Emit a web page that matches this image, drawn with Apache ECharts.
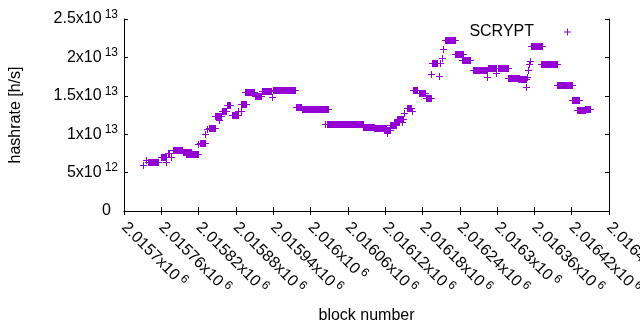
<!DOCTYPE html>
<html>
<head>
<meta charset="utf-8">
<script src="https://cdn.jsdelivr.net/npm/echarts@6/dist/echarts.min.js"></script>
<style>
html, body { margin: 0; padding: 0; background: #fff; }
#main { width: 640px; height: 330px; }
</style>
</head>
<body>
<div id="main"></div>
<script>
// runs of blocks sharing one hashrate value: first block, last block, hashrate [h/s]
var runStart = [2015731, 2015736, 2015739, 2015760, 2015768, 2015771, 2015775, 2015778, 2015795, 2015799,
    2015819, 2015823, 2015831, 2015834, 2015836, 2015847, 2015852, 2015858, 2015866, 2015874,
    2015884, 2015888, 2015888, 2015895, 2015896, 2015911, 2015922, 2015938, 2015940, 2015977,
    2015986, 2016023, 2016026, 2016084, 2016102, 2016111, 2016118, 2016123, 2016127, 2016134,
    2016139, 2016147, 2016150, 2016155, 2016163, 2016164, 2016174, 2016185, 2016194, 2016196,
    2016207, 2016209, 2016211, 2016213, 2016216, 2016232, 2016243, 2016261, 2016284, 2016285,
    2016299, 2016301, 2016317, 2016333, 2016346, 2016348, 2016350, 2016351, 2016353, 2016355,
    2016371, 2016397, 2016421, 2016429, 2016442];
var runEnd = [2015731, 2015736, 2015755, 2015767, 2015768, 2015773, 2015775, 2015794, 2015807, 2015819,
    2015819, 2015831, 2015831, 2015834, 2015847, 2015856, 2015852, 2015864, 2015871, 2015884,
    2015884, 2015896, 2015888, 2015895, 2015909, 2015920, 2015937, 2015938, 2015975, 2015985,
    2016028, 2016023, 2016084, 2016102, 2016111, 2016121, 2016127, 2016123, 2016137, 2016142,
    2016148, 2016147, 2016150, 2016161, 2016163, 2016172, 2016184, 2016193, 2016194, 2016204,
    2016207, 2016209, 2016211, 2016213, 2016233, 2016245, 2016256, 2016283, 2016284, 2016299,
    2016299, 2016317, 2016336, 2016346, 2016346, 2016348, 2016350, 2016351, 2016353, 2016373,
    2016397, 2016421, 2016431, 2016442, 2016450];
var runHash = [6.05e12, 6.64e12, 6.34e12, 6.97e12, 6.38e12, 7.49e12, 6.97e12, 7.94e12, 7.62e12, 7.36e12,
    8.66e12, 8.79e12, 1.009e13, 1.074e13, 1.077e13, 1.237e13, 1.185e13, 1.302e13, 1.38e13, 1.25e13,
    1.302e13, 1.389e13, 1.302e13, 1.553e13, 1.545e13, 1.491e13, 1.558e13, 1.488e13, 1.572e13, 1.354e13,
    1.324e13, 1.129e13, 1.13e13, 1.09e13, 1.077e13, 1.087e13, 1.055e13, 1.022e13, 1.117e13, 1.165e13,
    1.204e13, 1.163e13, 1.272e13, 1.341e13, 1.302e13, 1.572e13, 1.532e13, 1.471e13, 1.78e13, 1.923e13,
    1.762e13, 1.923e13, 1.988e13, 2.109e13, 2.222e13, 2.04e13, 1.966e13, 1.836e13, 1.749e13, 1.866e13,
    1.793e13, 1.866e13, 1.736e13, 1.719e13, 1.618e13, 1.749e13, 1.836e13, 1.91e13, 1.953e13, 2.142e13,
    1.914e13, 1.637e13, 1.445e13, 1.315e13, 1.328e13];

var seriesName = 'SCRYPT';
var xRange = [2015700, 2016480];
var xStep = 60;
var yRange = [0, 2.5e13];
var yStep = 5e12;

var purple = '#9400d3';
var font = '"Liberation Sans", Arial, sans-serif';

// "2.0157x10^6" style labels, like gnuplot's enhanced text
function sciLabel(v) {
    if (v === 0) return '{z|0}';
    var e = Math.floor(Math.log10(v) + 1e-9);
    var m = +(v / Math.pow(10, e)).toPrecision(6);
    return '{m|' + m + 'x10}{e|' + e + '}';
}

// a run of '+' points merges into a bar; draw it as one shape
function renderRun(params, api) {
    var p1 = api.coord([api.value(0), api.value(2)]);
    var p2 = api.coord([api.value(1), api.value(2)]);
    var x1 = Math.round(p1[0]), x2 = Math.round(p2[0]), y = Math.round(p1[1]);
    var color = api.visual('color');
    return {
        type: 'group',
        children: [
            { type: 'rect', shape: { x: x1, y: y - 3, width: x2 - x1 + 1, height: 7 }, style: { fill: color } },
            { type: 'rect', shape: { x: x1 - 3, y: y, width: x2 - x1 + 7, height: 1 }, style: { fill: color } }
        ]
    };
}

var runs = runStart.map(function (s, i) { return [s, runEnd[i], runHash[i]]; });

var lineStyle = { color: '#000', width: 1 };
var tick = { show: true, inside: true, length: 4, lineStyle: lineStyle };

var chart = echarts.init(document.getElementById('main'));
chart.setOption({
    animation: false,
    textStyle: { fontFamily: font },
    grid: { left: 124, right: 31, top: 19, bottom: 119, outerBoundsMode: 'none' },
    legend: {
        data: [{ name: seriesName, icon: 'path://M3,0h1v3h3v1h-3v3h-1v-3h-3v-1h3z' }],
        right: 64, top: 19,
        align: 'right',
        itemWidth: 7, itemHeight: 7,
        textStyle: { fontSize: 16, color: '#000', fontFamily: font, padding: [0, 25, 0, 0] }
    },
    xAxis: [{
        type: 'value', position: 'bottom',
        min: xRange[0], max: xRange[1], interval: xStep,
        axisLine: { show: true, lineStyle: lineStyle },
        axisTick: tick,
        splitLine: { show: false },
        axisLabel: {
            rotate: -45, margin: 14, interval: 0, hideOverlap: false,
            showMinLabel: true, showMaxLabel: true,
            formatter: sciLabel,
            rich: {
                m: { fontSize: 16, color: '#000', fontFamily: font },
                e: { fontSize: 12, color: '#000', fontFamily: font, padding: [0, 0, 9, 3] }
            }
        },
        name: 'block number', nameLocation: 'middle', nameGap: 97,
        nameTextStyle: { fontSize: 16, color: '#000', fontFamily: font }
    }, {
        type: 'value', position: 'top',
        min: xRange[0], max: xRange[1], interval: xStep,
        axisLine: { show: true, lineStyle: lineStyle },
        axisTick: tick,
        axisLabel: { show: false },
        splitLine: { show: false }
    }],
    yAxis: [{
        type: 'value', position: 'left',
        min: yRange[0], max: yRange[1], interval: yStep,
        axisLine: { show: true, lineStyle: lineStyle },
        axisTick: tick,
        splitLine: { show: false },
        axisLabel: {
            margin: 6,
            formatter: sciLabel,
            rich: {
                m: { fontSize: 16, color: '#000', fontFamily: font },
                e: { fontSize: 12, color: '#000', fontFamily: font, padding: [0, 0, 9, 3] },
                z: { fontSize: 16, color: '#000', fontFamily: font, padding: [0, 7, 0, 0] }
            }
        },
        name: 'hashrate [h/s]', nameLocation: 'middle', nameGap: 100,
        nameTextStyle: { fontSize: 16, color: '#000', fontFamily: font }
    }, {
        type: 'value', position: 'right',
        min: yRange[0], max: yRange[1], interval: yStep,
        axisLine: { show: true, lineStyle: lineStyle },
        axisTick: tick,
        axisLabel: { show: false },
        splitLine: { show: false }
    }],
    series: [{
        name: seriesName,
        type: 'custom',
        xAxisIndex: 0, yAxisIndex: 0,
        itemStyle: { color: purple },
        encode: { x: [0, 1], y: 2 },
        renderItem: renderRun,
        data: runs
    }]
});
</script>
</body>
</html>
